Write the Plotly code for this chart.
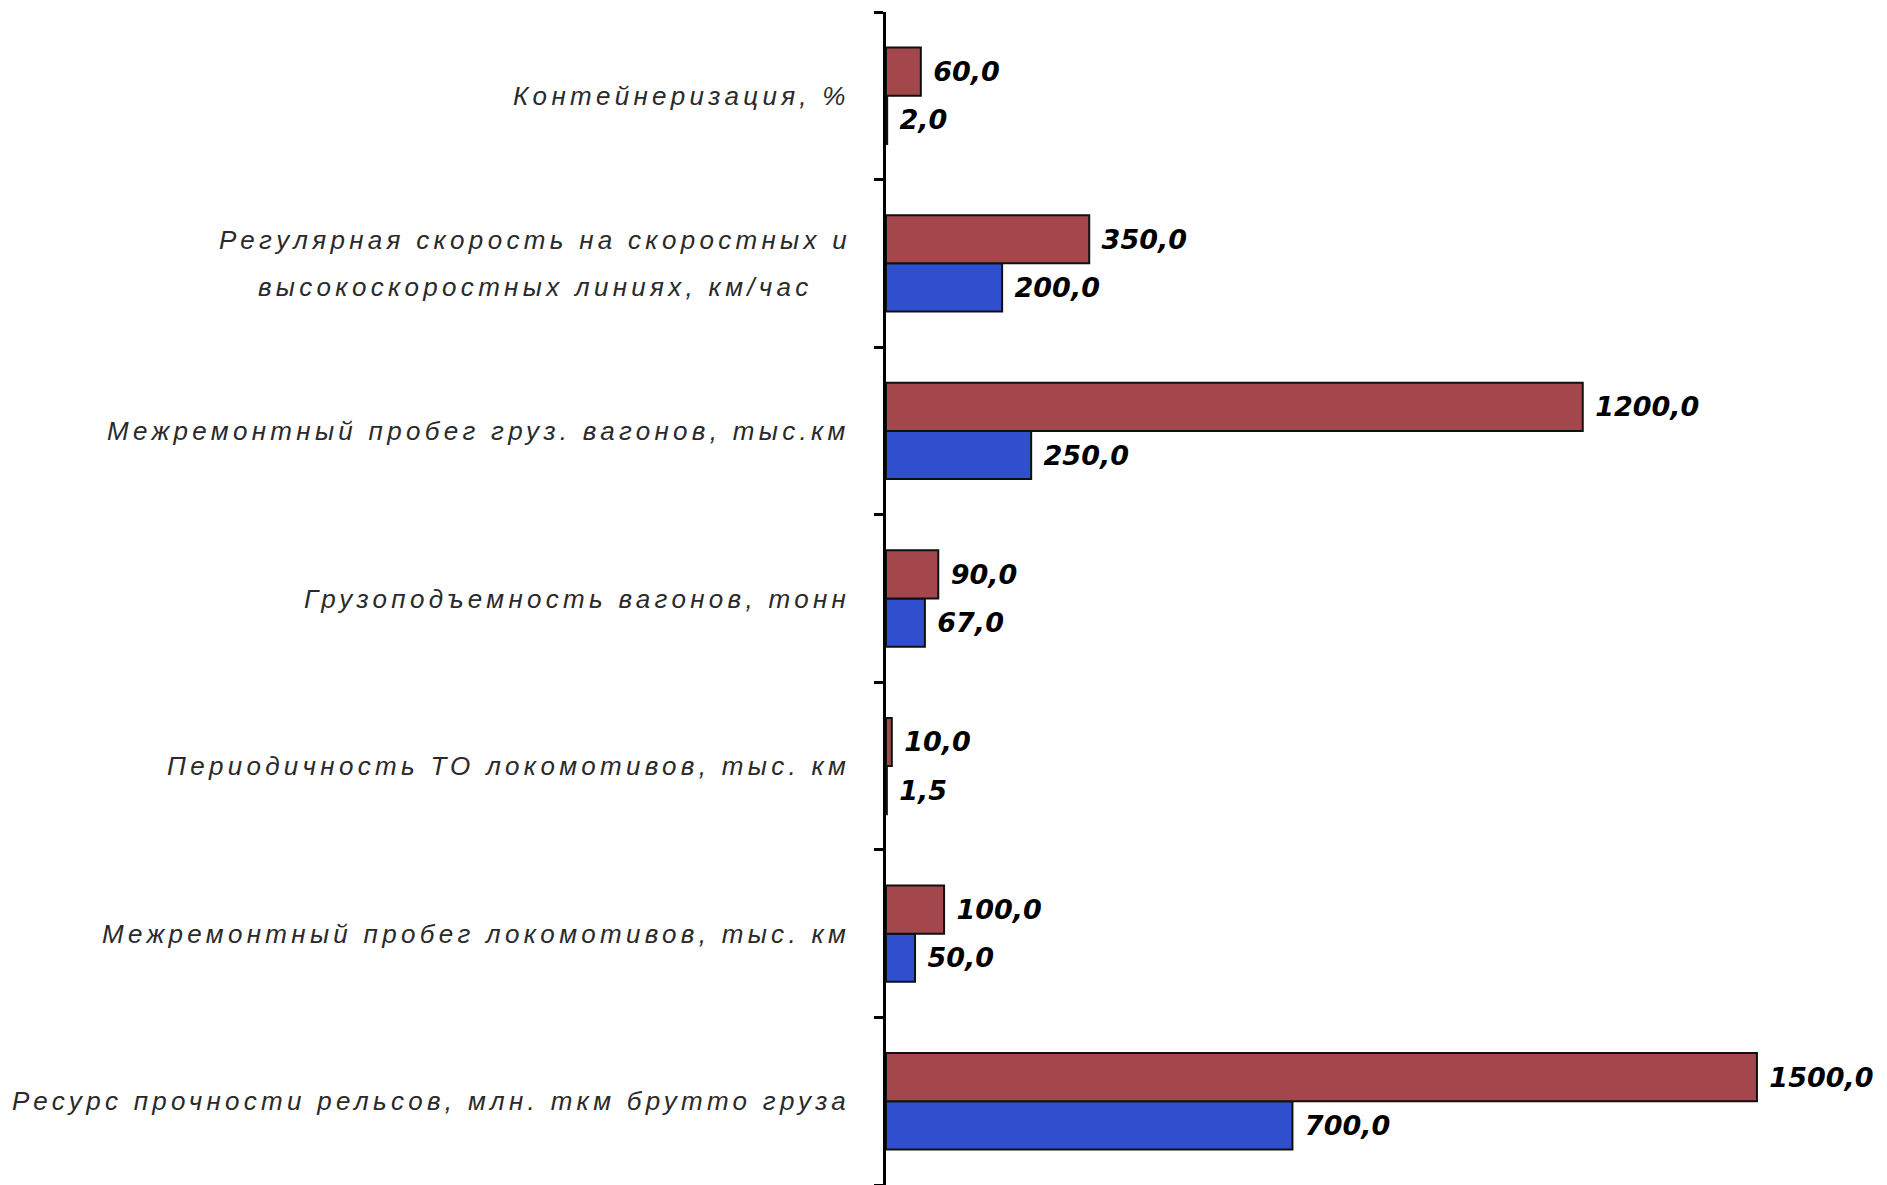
import plotly.graph_objects as go

categories = [
    "Контейнеризация, %",
    "Регулярная скорость на скоростных и<br>высокоскоростных линиях, км/час",
    "Межремонтный пробег груз. вагонов, тыс.км",
    "Грузоподъемность вагонов, тонн",
    "Периодичность ТО локомотивов, тыс. км",
    "Межремонтный пробег локомотивов, тыс. км",
    "Ресурс прочности рельсов, млн. ткм брутто груза",
]
target_values = [60.0, 350.0, 1200.0, 90.0, 10.0, 100.0, 1500.0]
current_values = [2.0, 200.0, 250.0, 67.0, 1.5, 50.0, 700.0]

def fmt(v):
    return "\u00a0" + f"{v:.1f}".replace(".", ",")

value_font = dict(family="DejaVu Sans", size=27, color="black", weight="bold", style="italic")

fig = go.Figure()
fig.add_trace(go.Bar(
    y=categories, x=current_values, orientation="h", name="Текущее",
    marker=dict(color="#2f4fcf", line=dict(color="#101010", width=2)),
    text=[fmt(v) for v in current_values], textposition="outside",
    textfont=value_font, cliponaxis=False, constraintext="none",
))
fig.add_trace(go.Bar(
    y=categories, x=target_values, orientation="h", name="Целевое",
    marker=dict(color="#a3474d", line=dict(color="#101010", width=2)),
    text=[fmt(v) for v in target_values], textposition="outside",
    textfont=value_font, cliponaxis=False, constraintext="none",
))

label_font = dict(family="Liberation Sans", size=26, color="#2a2a2a", style="italic")
for c in categories:
    lines = c.split("<br>")
    n = len(lines)
    for i, line in enumerate(lines):
        fig.add_annotation(
            xref="paper", yref="y", x=0, y=c,
            xanchor="center" if n > 1 else "right",
            yanchor="middle",
            xshift=-(886 - 535) if n > 1 else -34,
            showarrow=False,
            yshift=(-(i - (n - 1) / 2) * 47),
            text='<span style="letter-spacing:4.3px">' + line + "</span>",
            font=label_font,
        )

fig.update_layout(
    width=1887, height=1185,
    margin=dict(l=886, r=72, t=12, b=0),
    paper_bgcolor="white", plot_bgcolor="white",
    barmode="group", bargap=0.425, bargroupgap=0,
    showlegend=False,
    xaxis=dict(range=[0, 1600], visible=False),
    yaxis=dict(
        categoryorder="array", categoryarray=list(reversed(categories)),
        range=[-0.5, 6.5],
        showline=True, linecolor="black", linewidth=3,
        ticks="outside", tickson="boundaries", ticklen=9, tickwidth=3, tickcolor="black",
        showticklabels=False, showgrid=False, zeroline=False,
    ),
)

fig.write_html("out.html")
